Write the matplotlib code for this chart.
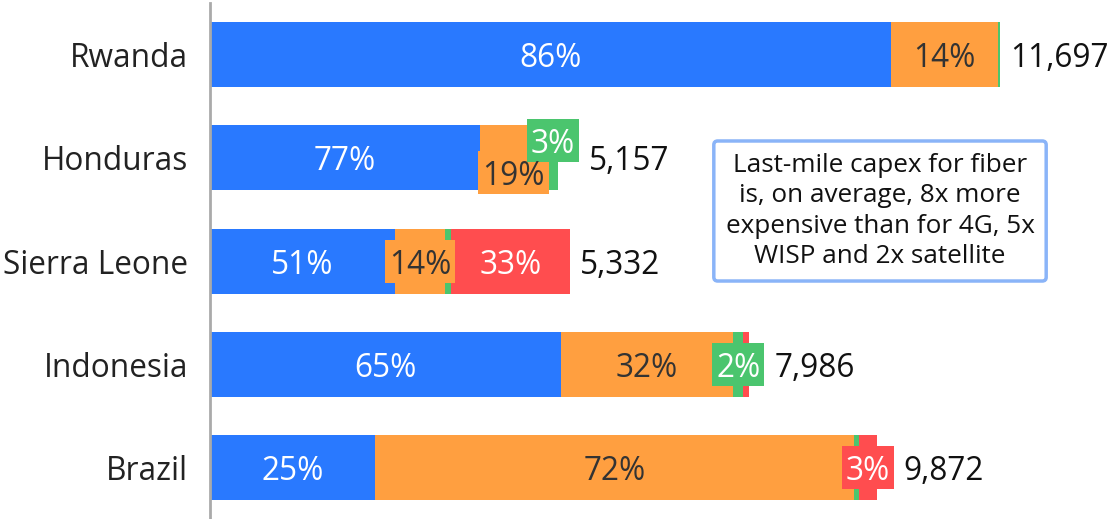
import matplotlib
matplotlib.use("Agg")
import matplotlib.pyplot as plt
from matplotlib.patches import Rectangle

plt.rcParams['font.family'] = ['Open Sans', 'DejaVu Sans']

# ---------------- data ----------------
countries = ["Rwanda", "Honduras", "Sierra Leone", "Indonesia", "Brazil"]
totals = [11697, 5157, 5332, 7986, 9872]
share_blue = [86.2, 77.4, 51.4, 65.0, 24.7]
share_orange = [13.6, 19.4, 13.9, 32.0, 71.9]
share_green = [0.2, 3.2, 1.7, 1.9, 0.7]
share_red = [0.0, 0.0, 33.0, 1.1, 2.7]
# which segment labels are displayed (blue, orange, green, red)
show_label = [
    [True, True, False, False],
    [True, True, True, False],
    [True, True, False, True],
    [True, True, True, False],
    [True, True, False, True],
]
note = "Last-mile capex for fiber\nis, on average, 8x more\nexpensive than for 4G, 5x\nWISP and 2x satellite"

# ---------------- style ----------------
colors = ["#2979FF", "#FF9F40", "#4BC56E", "#FF4D4F"]
text_colors = ["white", "#333333", "white", "white"]
# vertical nudges (px, positive = down) for crowded labels
nudge = {(1, 1): 14.5, (1, 2): -17.5}
FS = 22.8
TEXT_DY = 4  # px, visual centering correction

W, H, DPI = 1112, 519, 100
fig = plt.figure(figsize=(W / DPI, H / DPI), dpi=DPI)
ax_left = 210 / W
ax = fig.add_axes([ax_left, 0, 1 - ax_left, 1])
ax_w_px = W * (1 - ax_left)

xmax = 11697 * ax_w_px / 790.0
ax.set_xlim(0, xmax)
spacing = 103.25
ax.set_ylim(4 + (H - 468) / spacing, -54.5 / spacing)
ax.axis("off")
ax.plot([0, 0], [0, 1 - 3 / H], transform=ax.transAxes, color="#AAAAAA", lw=2, clip_on=False, zorder=5)

bar_h = 65 / spacing
shares = list(zip(share_blue, share_orange, share_green, share_red))
px_per_unit = ax_w_px / xmax
pt = 72 / DPI

label_artists = []
for i, (c, tot, sh) in enumerate(zip(countries, totals, shares)):
    left = 0.0
    for j, s in enumerate(sh):
        w = tot * s / 100.0
        if w > 0:
            ax.barh(i, w, left=left, height=bar_h, color=colors[j], edgecolor="none", zorder=2)
        label_artists.append((i, j, left + w / 2, w, s))
        left += w
    ax.annotate(c, xy=(0, i), xytext=(-22 * pt, -TEXT_DY * pt), textcoords="offset points",
                ha="right", va="center", fontsize=FS, color="#222222", annotation_clip=False)

fig.canvas.draw()
renderer = fig.canvas.get_renderer()

row_right = [tot * px_per_unit for tot in totals]
for (i, j, xc, w, s) in label_artists:
    if not show_label[i][j]:
        continue
    txt = f"{round(s):d}%"
    dy = nudge.get((i, j), 0)
    t = ax.annotate(txt, xy=(xc, i), xytext=(0, -(dy + TEXT_DY) * pt), textcoords="offset points",
                    ha="center", va="center", fontsize=FS, color=text_colors[j], zorder=7)
    bb = t.get_window_extent(renderer)
    seg_px = w * px_per_unit
    if seg_px < bb.width + 12:
        cx_disp, cy_disp = ax.transData.transform((xc, i))
        cy_disp -= dy
        bw, bh = bb.width + 8, 43
        rect = Rectangle(((cx_disp - bw / 2) / W, (cy_disp - bh / 2) / H), bw / W, bh / H,
                         transform=fig.transFigure, facecolor=colors[j], edgecolor="none",
                         zorder=6, clip_on=False)
        ax.add_patch(rect)
        row_right[i] = max(row_right[i], cx_disp + bw / 2 - ax_left * W)

for i, tot in enumerate(totals):
    ax.annotate(f"{tot:,}", xy=(row_right[i] / px_per_unit, i), xytext=(10 * pt, -TEXT_DY * pt),
                textcoords="offset points", ha="left", va="center", fontsize=FS, color="#111111",
                annotation_clip=False)

fig.text(880 / W, 1 - 211 / H, note, ha="center", va="center", fontsize=18.8, color="#111111",
         linespacing=1.29,
         bbox=dict(boxstyle="round,pad=0.45,rounding_size=0.15", facecolor="white",
                   edgecolor="#8AB4F8", lw=2.5))

fig.savefig("out.png", dpi=DPI)
